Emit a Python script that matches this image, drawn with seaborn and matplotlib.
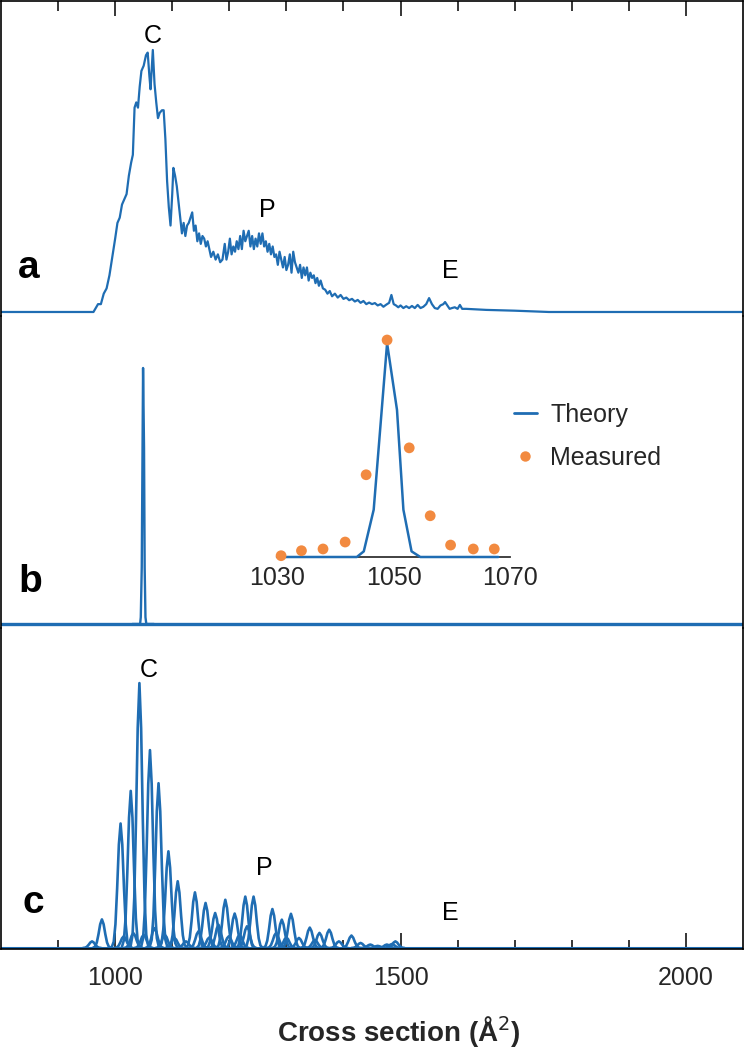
import matplotlib
matplotlib.use("Agg")
import matplotlib.pyplot as plt
from matplotlib.lines import Line2D
from matplotlib.ticker import FixedLocator
import pandas as pd
import seaborn as sns

# ---------------- data ----------------
x_range = [800, 2100]
major_ticks = [1000, 1500, 2000]
minor_ticks = [900, 1100, 1200, 1300, 1400, 1600, 1700, 1800, 1900]
inset_ticks = [1030, 1050, 1070]

# panel a: measured cross-section distribution (relative intensity)
a_spectrum = [
    (800, 0), (962, 0), (966, 1.5), (970, 3), (975, 3), (980, 7), (985, 9), (990, 14), (995, 21),
    (1000, 28), (1004, 34), (1008, 36), (1012, 41), (1016, 43), (1020, 45), (1024, 52), (1028, 57),
    (1031, 60), (1034, 78), (1037, 80), (1040, 78), (1043, 86), (1046, 92), (1050, 94), (1054, 98),
    (1057, 99), (1060, 90), (1062, 85), (1066, 100), (1069, 87), (1072, 80), (1075, 74), (1078, 76),
    (1082, 77), (1085, 77), (1088, 66), (1091, 50), (1094, 40), (1097, 33), (1100, 45), (1102, 55),
    (1105, 52), (1108, 48), (1111, 42), (1114, 36), (1117, 30), (1120, 34), (1123, 29), (1126, 33),
    (1129, 34), (1132, 36), (1135, 38), (1138, 31), (1141, 33), (1144, 27), (1147, 30), (1150, 26),
    (1153, 29), (1156, 28), (1159, 25), (1162, 27), (1165, 24), (1168, 21), (1172, 23), (1176, 20),
    (1180, 22), (1184, 19), (1188, 20), (1192, 26), (1195, 20), (1198, 23), (1201, 28), (1204, 22),
    (1207, 25), (1210, 23), (1213, 27), (1216, 24), (1219, 29), (1222, 24), (1225, 31), (1228, 27),
    (1231, 29), (1234, 31), (1237, 25), (1240, 29), (1243, 24), (1246, 28), (1249, 25), (1252, 30),
    (1255, 26), (1258, 30), (1261, 25), (1264, 27), (1267, 23), (1270, 26), (1273, 22), (1276, 25),
    (1279, 21), (1282, 22), (1285, 18), (1288, 23), (1291, 20), (1294, 17), (1297, 21), (1300, 16),
    (1303, 18), (1306, 22), (1309, 15), (1312, 23), (1315, 19), (1318, 17), (1321, 15), (1324, 18),
    (1327, 13), (1330, 17), (1333, 14), (1336, 17), (1339, 12), (1342, 15), (1345, 13), (1348, 14),
    (1351, 11), (1354, 13), (1357, 10), (1360, 12), (1364, 9), (1368, 8.5), (1372, 7), (1376, 8),
    (1380, 6), (1385, 7), (1390, 5.5), (1395, 6.5), (1400, 5), (1405, 5.5), (1410, 4.5), (1415, 5),
    (1420, 4), (1425, 4.6), (1430, 3.5), (1435, 4.2), (1440, 3), (1445, 3.6), (1450, 3), (1455, 3.4),
    (1460, 2.5), (1465, 3), (1470, 2), (1475, 2.8), (1480, 3.5), (1484, 6.5), (1488, 3), (1492, 2.5),
    (1496, 1.8), (1500, 2.5), (1505, 1.5), (1510, 2.2), (1515, 1.5), (1520, 2.3), (1525, 1.5),
    (1530, 2.7), (1535, 1.5), (1540, 2), (1545, 3), (1550, 5.3), (1555, 3), (1560, 1.5), (1565, 1.2),
    (1570, 2.5), (1575, 3), (1578, 3.8), (1582, 2.5), (1586, 1.2), (1590, 1.5), (1595, 1.8),
    (1600, 1.2), (1604, 2.7), (1608, 1.2), (1615, 1.2), (1650, 0.8), (1700, 0.5), (1760, 0), (2100, 0),
]

# panel b: theory vs measured (single species)
theory_x = [1030, 1043.7, 1044.9, 1046.6, 1048.9, 1050.6, 1051.7, 1053.1, 1054.6, 1068]
theory_y = [0, 0, 2.6, 21.8, 98.5, 67.8, 21.8, 2.6, 0, 0]
measured_x = [1030.7, 1034.2, 1037.9, 1041.7, 1045.3, 1048.9, 1052.7, 1056.3, 1059.8, 1063.7, 1067.3]
measured_y = [0.6, 2.9, 3.7, 6.9, 37.9, 100, 50.3, 19, 5.5, 3.7, 3.7]

# panel c: computed distribution, comb of narrow peaks (centre, relative height)
c_peak_centers = [959.5, 976.8, 1009.5, 1027.3, 1042.5, 1061, 1076, 1093.3, 1109.6, 1139.8, 1158.4,
                  1175.2, 1193, 1209.4, 1228, 1242.5, 1275.5, 1292, 1308, 1341, 1358, 1375, 1414,
                  1430, 1447, 1476, 1491]
c_peak_heights = [2.5, 10.8, 47, 59.3, 100, 74.7, 62.2, 36.5, 25.2, 21, 17, 13.2, 18.2, 13, 19.4,
                  19.4, 14.7, 10.7, 12.9, 7.7, 5.7, 6.9, 4.7, 1.9, 1.3, 1.3, 2.5]
c_minor_centers = [1015, 1032, 1050, 1069, 1087, 1104, 1124, 1146, 1165, 1181, 1199, 1218, 1231,
                   1282, 1300, 1322, 1350, 1392, 1460, 1485]
c_minor_heights = [4.4, 5.6, 5, 7.5, 5, 3.8, 2.5, 6.3, 4, 8.8, 4.4, 5, 8.2, 5.7, 4, 3.8, 3, 2.5,
                   0.8, 1.5]
# line shape of one peak (offset from centre, fraction of peak height)
peak_shape_dx = [-16, -12, -9, -6, -3, 0, 3, 6, 9, 12, 16]
peak_shape_rel = [0, 0.05, 0.19, 0.48, 0.83, 1, 0.83, 0.48, 0.19, 0.05, 0]

# ---------------- style ----------------
BLUE = "#1f6db3"
ORANGE = "#f28a40"
sns.set_style("white")
plt.rcParams["font.family"] = ["Liberation Sans", "DejaVu Sans"]

W, H = 746, 1050
fig = plt.figure(figsize=(W / 100, H / 100), dpi=100)


def frac_box(x0, y0, x1, y1):
    return [x0 / W, 1 - y1 / H, (x1 - x0) / W, (y1 - y0) / H]


ax_a = fig.add_axes(frac_box(1, 1, 743, 316))
ax_b = fig.add_axes(frac_box(1, 316, 743, 628))
ax_c = fig.add_axes(frac_box(1, 628, 743, 949))

a_df = pd.DataFrame(a_spectrum, columns=["x", "y"])
base_df = pd.DataFrame({"x": x_range, "y": [0, 0]})

# panel a
sns.lineplot(data=a_df, x="x", y="y", ax=ax_a, color=BLUE, lw=1.6, sort=False, estimator=None)
ax_a.set_ylim(-1.53, 118.7)

# panel b
sns.lineplot(data=base_df, x="x", y="y", ax=ax_b, color=BLUE, lw=2.4, sort=False, estimator=None)
sns.lineplot(x=theory_x, y=theory_y, ax=ax_b, color=BLUE, lw=1.7, sort=False, estimator=None)
ax_b.set_ylim(-1.54, 118.5)

# panel c
rows = []
for i, (cx, h) in enumerate(zip(c_peak_centers, c_peak_heights)):
    for dx, r in zip(peak_shape_dx, peak_shape_rel):
        rows.append((f"m{i}", cx + dx, h * r))
for i, (cx, h) in enumerate(zip(c_minor_centers, c_minor_heights)):
    for dx, r in zip(peak_shape_dx, peak_shape_rel):
        rows.append((f"s{i}", cx + dx, h * r))
c_df = pd.DataFrame(rows, columns=["peak", "x", "y"])
sns.lineplot(data=base_df, x="x", y="y", ax=ax_c, color=BLUE, lw=2.2, sort=False, estimator=None)
sns.lineplot(data=c_df, x="x", y="y", units="peak", ax=ax_c, color=BLUE, lw=1.9,
             sort=False, estimator=None)
ax_c.set_ylim(-0.38, 120.8)

for ax in (ax_a, ax_b, ax_c):
    ax.set_xlim(*x_range)
    ax.set_xlabel("")
    ax.set_ylabel("")
    ax.set_yticks([])
    for s in ax.spines.values():
        s.set_color("black")
        s.set_linewidth(1.2)
    ax.patch.set_alpha(0)

ax_a.spines["bottom"].set_visible(False)
ax_b.spines["top"].set_visible(False)
ax_b.spines["bottom"].set_visible(False)
ax_c.spines["top"].set_visible(False)

ax_a.xaxis.set_major_locator(FixedLocator(major_ticks))
ax_a.xaxis.set_minor_locator(FixedLocator(minor_ticks))
ax_a.tick_params(axis="x", which="both", bottom=False, top=True, labelbottom=False,
                 labeltop=False, direction="in", width=1.1, color="black")
ax_a.tick_params(axis="x", which="major", length=10.8)
ax_a.tick_params(axis="x", which="minor", length=7.2)

ax_b.set_xticks([])

ax_c.xaxis.set_major_locator(FixedLocator(major_ticks))
ax_c.xaxis.set_minor_locator(FixedLocator(minor_ticks))
ax_c.tick_params(axis="x", which="both", bottom=True, top=False, direction="in",
                 width=1.1, color="black")
ax_c.tick_params(axis="x", which="major", length=11.5, labelsize=18, pad=12)
ax_c.tick_params(axis="x", which="minor", length=6.5)

# peak letters
txt = dict(fontsize=18, ha="center", va="baseline", color="black")
ax_a.text(1065.7, 102.7, "C", **txt)
ax_a.text(1266.8, 36.3, "P", **txt)
ax_a.text(1586.7, 13, "E", **txt)
ax_c.text(1058.7, 102.3, "C", **txt)
ax_c.text(1261.5, 27.5, "P", **txt)
ax_c.text(1586.7, 10.6, "E", **txt)

pl = dict(fontsize=28, fontweight="bold", ha="center", va="baseline", color="black")
ax_a.text(848, 13, "a", **pl)
ax_b.text(851.6, 12.3, "b", **pl)
ax_c.text(856, 13.2, "c", **pl)

# inset
ax_in = fig.add_axes(frac_box(277, 340, 510, 557))
sns.lineplot(x=theory_x, y=theory_y, ax=ax_in, color=BLUE, lw=1.8, sort=False,
             estimator=None, zorder=4, clip_on=False)
sns.scatterplot(x=measured_x, y=measured_y, ax=ax_in, color=ORANGE, s=60, edgecolor="none",
                zorder=5, clip_on=False)
ax_in.set_xlim(1030, 1070)
ax_in.set_ylim(0, 100)
ax_in.patch.set_alpha(0)
for side in ("top", "left", "right"):
    ax_in.spines[side].set_visible(False)
ax_in.spines["bottom"].set_color("#333333")
ax_in.spines["bottom"].set_linewidth(1.3)
ax_in.set_yticks([])
ax_in.set_xticks(inset_ticks)
ax_in.tick_params(axis="x", direction="out", length=3.5, width=1.1, color="#333333",
                  labelsize=18, pad=3)
ax_in.set_xlabel("")
ax_in.set_ylabel("")

handles = [Line2D([], [], color=BLUE, lw=2),
           Line2D([], [], marker="o", ls="", color=ORANGE, markersize=7.5, markeredgewidth=0)]
fig.legend(handles, ["Theory", "Measured"], loc="upper left",
           bbox_to_anchor=(514 / W, 1 - 403 / H), frameon=False, fontsize=18,
           handlelength=0.9, handletextpad=0.55, labelspacing=0.75, borderpad=0,
           borderaxespad=0)

fig.text(399 / W, 1 - 1042 / H, "Cross section (Å$^{2}$)", fontsize=20, fontweight="bold",
         ha="center", va="baseline")

fig.savefig("out.png", dpi=100)
